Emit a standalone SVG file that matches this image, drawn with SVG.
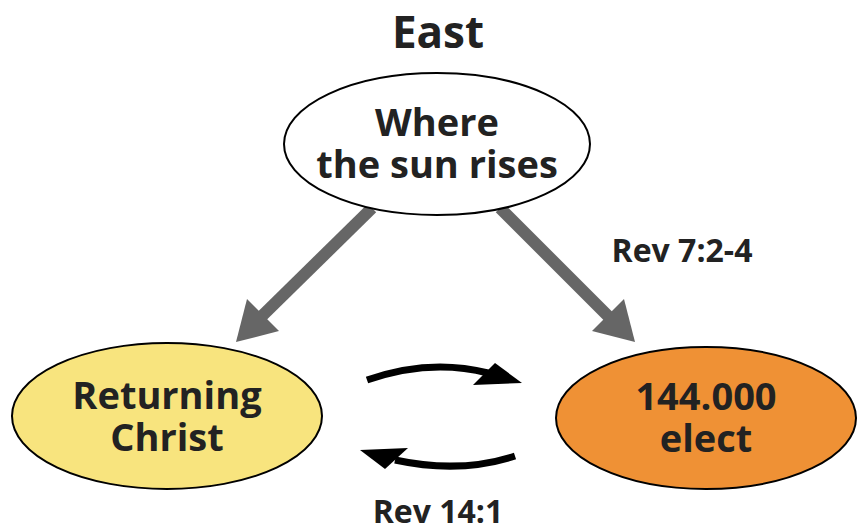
<svg xmlns="http://www.w3.org/2000/svg" width="859" height="532" viewBox="0 0 859 532">
<style>
text{font-family:"Open Sans","Liberation Sans",sans-serif;font-weight:bold;fill:#222;text-anchor:middle}
.t{font-size:38px}
.r{font-size:32px}
.node{stroke:#000;stroke-width:2}
.gray{stroke:#666;stroke-width:12;fill:none}
.blk{stroke:#000;stroke-width:7;fill:none}
</style>
<rect width="859" height="532" fill="#fff"/>
<text x="438" y="48" style="font-size:44px">East</text>
<g id="connectors">
<line class="gray" x1="372" y1="208" x2="262" y2="316"/>
<polygon points="236,342 247,299 279,331" fill="#666"/>
<line class="gray" x1="500" y1="208" x2="608" y2="316"/>
<polygon points="635,342 592,331 624,299" fill="#666"/>
<path class="blk" d="M367,380 Q430,358 488,373"/>
<polygon points="522,383 495,363 473,385" fill="#000"/>
<path class="blk" d="M515,456 Q460,474 395,460"/>
<polygon points="360,450 408,448 385,469" fill="#000"/>
</g>
<g id="sun">
<ellipse class="node" cx="437" cy="144" rx="153" ry="71" fill="#fff"/>
<text class="t" x="437" y="136">Where</text>
<text class="t" x="437" y="178">the sun rises</text>
</g>
<g id="christ">
<ellipse class="node" cx="167" cy="416" rx="155" ry="73" fill="#f8e47e"/>
<text class="t" x="167" y="409">Returning</text>
<text class="t" x="167" y="451">Christ</text>
</g>
<g id="elect">
<ellipse class="node" cx="706" cy="418" rx="150" ry="71" fill="#ef9135"/>
<text class="t" x="706" y="410">144.000</text>
<text class="t" x="706" y="452">elect</text>
</g>
<text class="r" x="682" y="262">Rev 7:2-4</text>
<text class="r" x="438" y="523">Rev 14:1</text>
</svg>
